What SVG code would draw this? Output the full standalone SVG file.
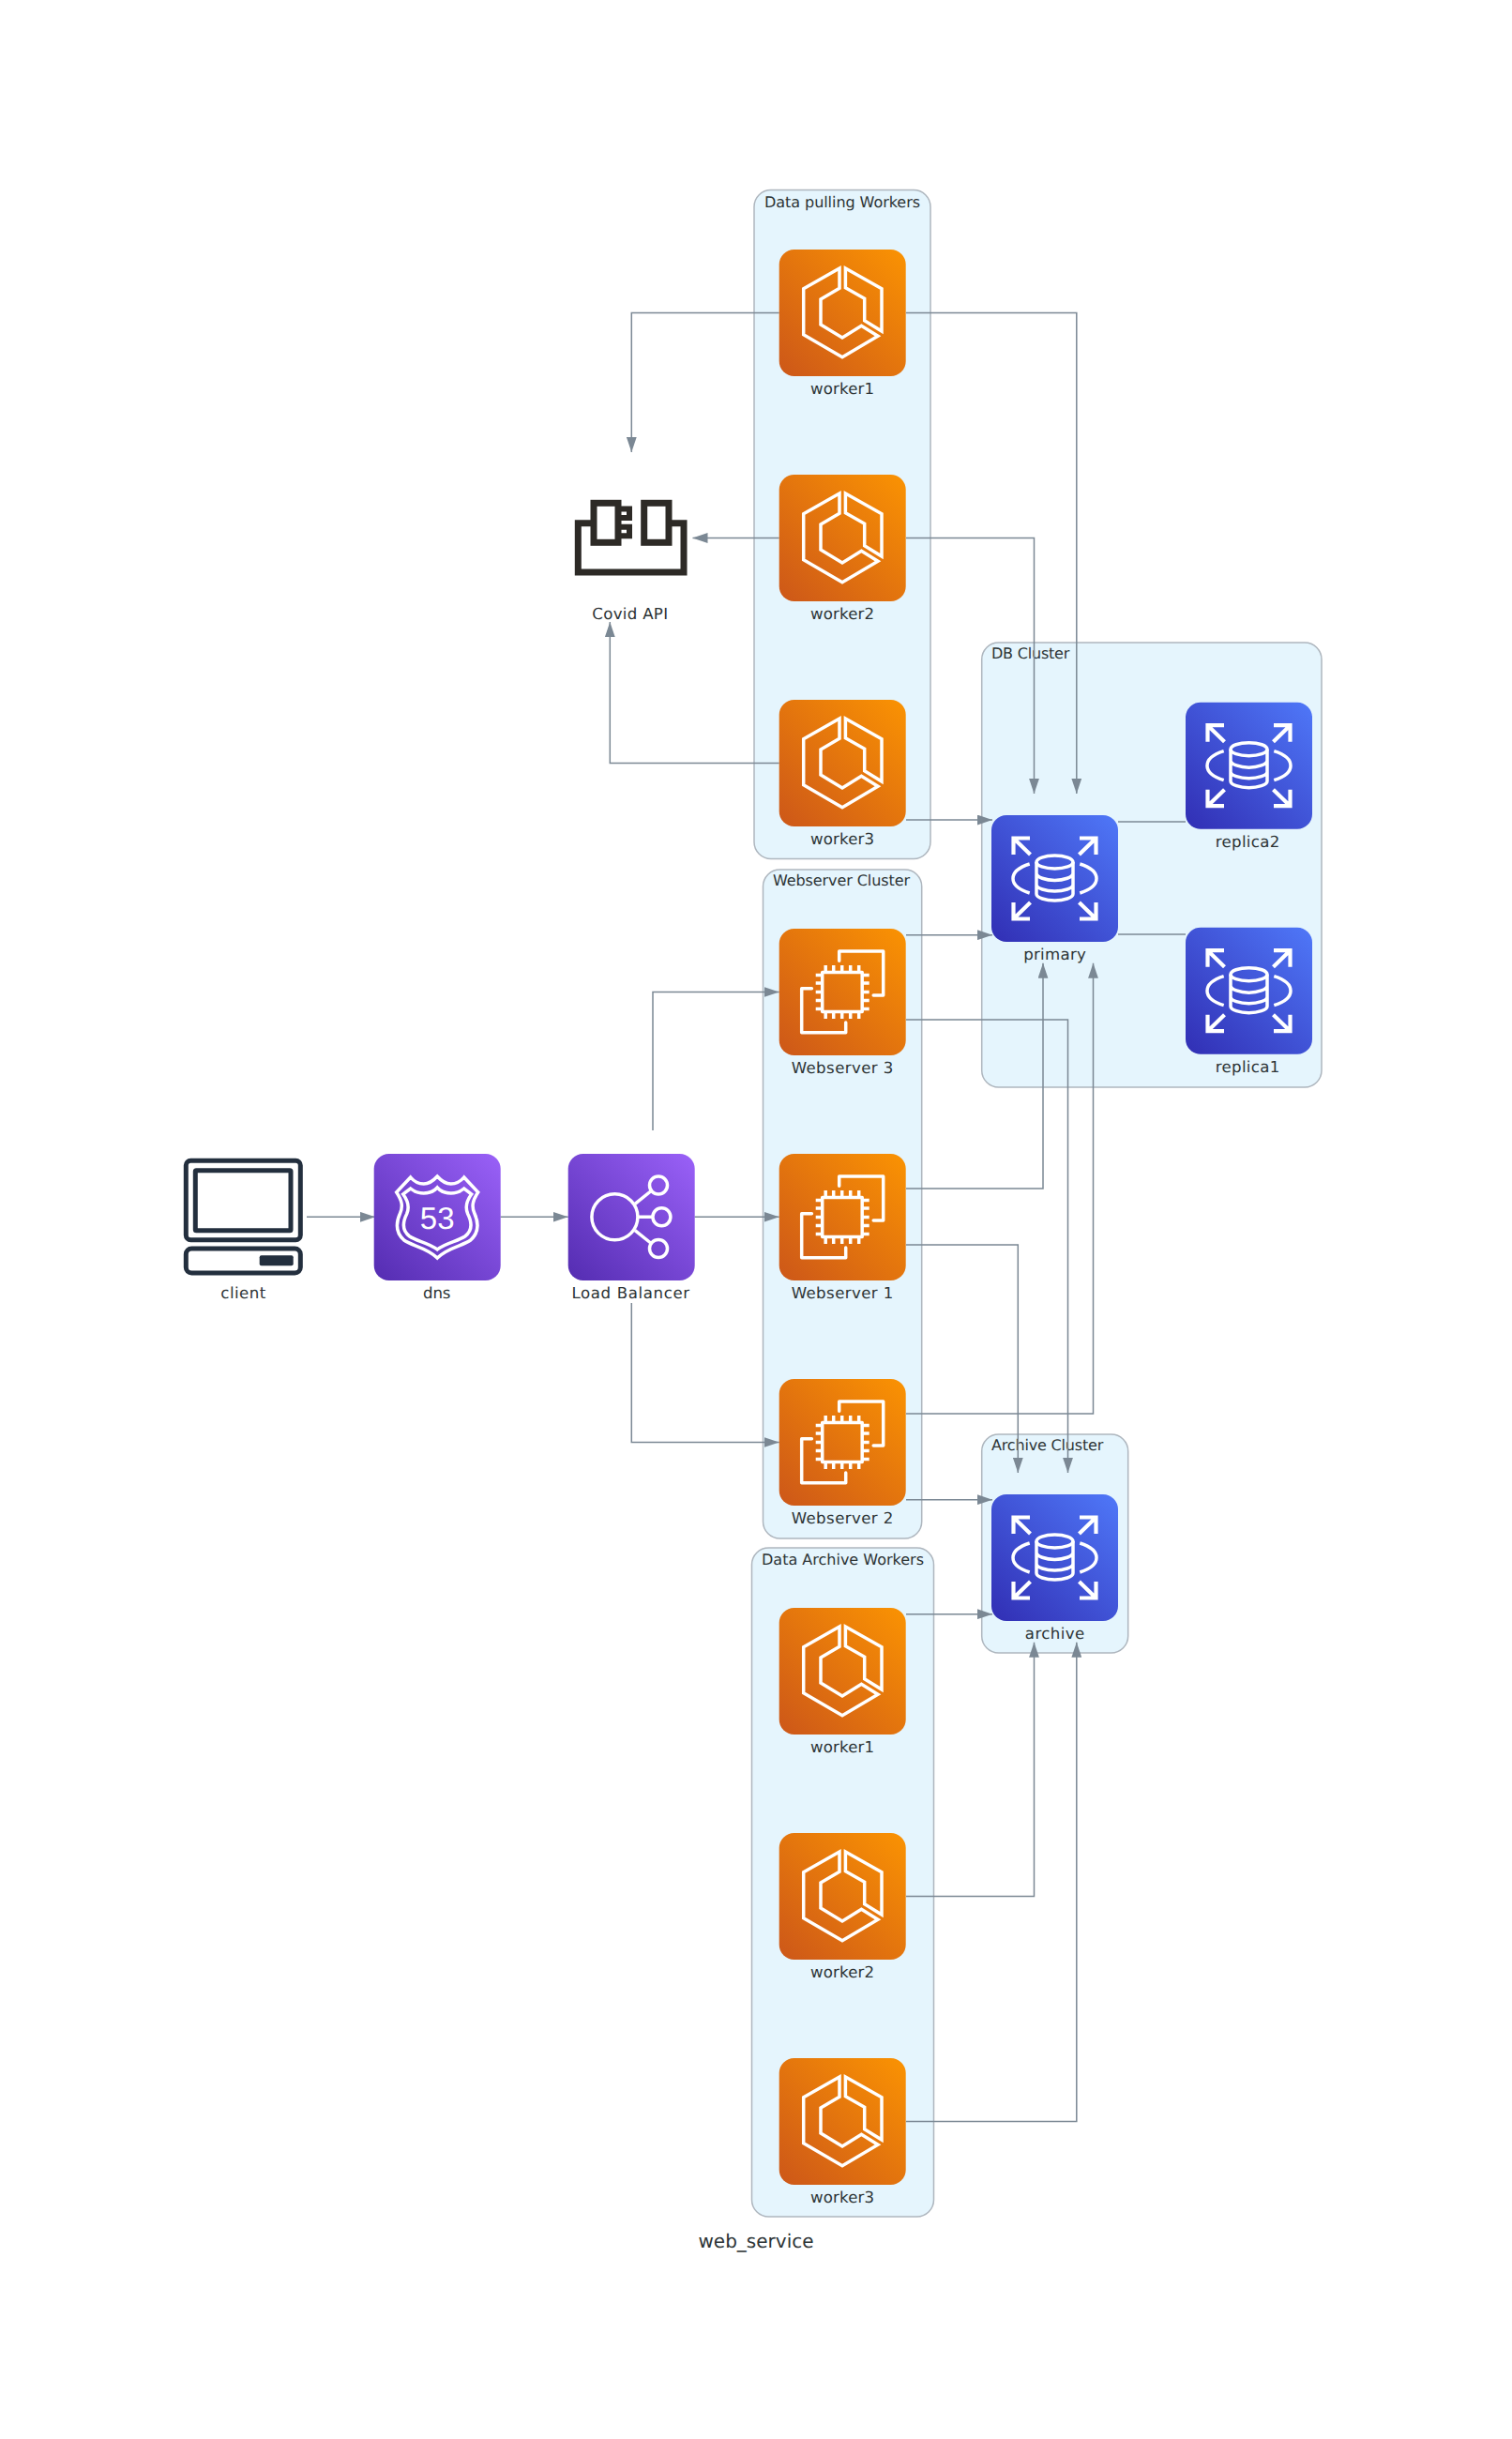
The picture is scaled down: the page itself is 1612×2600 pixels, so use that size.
<svg xmlns="http://www.w3.org/2000/svg" width="1612" height="2600" viewBox="0 0 1612 2600">
<style>
text{text-rendering:geometricPrecision}
.cl{fill:#E5F5FD;stroke:#AEB6BE;stroke-width:1.5}
.ct{font-family:"DejaVu Sans",sans-serif;font-size:16px;fill:#2D3436}
.nt{font-family:"DejaVu Sans",sans-serif;font-size:16.6px;fill:#2D3436;text-anchor:middle}
.e{fill:none;stroke:#7B8894;stroke-width:1.5}
.a{marker-end:url(#ah)}
.w{fill:none;stroke:#fff;stroke-width:3.5;stroke-linejoin:miter}
.wr{fill:none;stroke:#fff;stroke-width:3.5;stroke-linejoin:round;stroke-linecap:round}
.ws{fill:none;stroke:#fff;stroke-width:4.2;stroke-linejoin:miter}
</style>
<defs>
<marker id="ah" markerUnits="userSpaceOnUse" markerWidth="16" markerHeight="11" refX="16" refY="5.4" orient="auto"><path d="M0,0L16,5.4L0,10.8Z" fill="#7B8894"/></marker>
<linearGradient id="go" x1="-0.1" y1="1.1" x2="1.1" y2="-0.1"><stop offset="0" stop-color="#C8511B"/><stop offset="1" stop-color="#FF9900"/></linearGradient>
<linearGradient id="gb" x1="-0.1" y1="1.1" x2="1.1" y2="-0.1"><stop offset="0" stop-color="#2E27AD"/><stop offset="1" stop-color="#527FFF"/></linearGradient>
<linearGradient id="gp" x1="-0.1" y1="1.1" x2="1.1" y2="-0.1"><stop offset="0" stop-color="#4D27AA"/><stop offset="1" stop-color="#A166FF"/></linearGradient>
<symbol id="ecs" width="135" height="135" viewBox="0 0 135 135" overflow="visible">
<rect width="135" height="135" rx="16" fill="url(#go)"/>
<path class="w" d="M64.3,20L26,41.7V90.7L67.3,114.7L105.3,92.3L87.7,81.3L67.3,94L44.3,80V53L64.3,41.3Z"/>
<path class="w" d="M70.7,20L109.3,41.7V87L91,75.7V52.3L70.7,40.7Z"/>
</symbol>
<symbol id="ec2" width="135" height="135" viewBox="0 0 135 135" overflow="visible">
<rect width="135" height="135" rx="16" fill="url(#go)"/>
<rect class="wr" x="46" y="46.5" width="42.5" height="42"/>
<path class="w" d="M49.5,39V46M58,39V46M67,39V46M76,39V46M85,39V46M49.5,89V96M58,89V96M67,89V96M76,89V96M85,89V96M39,49.5H46M39,58H46M39,67.5H46M39,76.5H46M39,85.5H46M89,49.5H96M89,58H96M89,67.5H96M89,76.5H96M89,85.5H96"/>
<path class="wr" d="M64,34.3V24H111V71H100.5"/>
<path class="wr" d="M34.7,63.7H24V110.7H71V100"/>
</symbol>
<symbol id="rds" width="135" height="135" viewBox="0 0 135 135" overflow="visible">
<rect width="135" height="135" rx="16" fill="url(#gb)"/>
<path class="ws" d="M41,24.500H23.500V42M23.500,24.500L41.500,42"/>
<path class="ws" d="M94,24.500H111.500V42M111.500,24.500L93.500,42"/>
<path class="ws" d="M41,110.500H23.500V93M23.500,110.500L41.500,93"/>
<path class="ws" d="M94,110.500H111.500V93M111.500,110.500L93.500,93"/>
<ellipse class="w" cx="67.500" cy="50" rx="19.500" ry="7"/>
<path class="w" d="M48,50V84C48,88 58,91 67.500,91S87,88 87,84V50M48,62C48,66 58,69.500 67.500,69.500S87,66 87,62M48,74C48,78 58,81 67.500,81S87,78 87,74"/>
<path class="w" d="M40.700,52C28,56 23,62 23,67.500C23,73 28,79 40.700,83M94.300,52C107,56 112,62 112,67.500C112,73 107,79 94.300,83"/>
</symbol>
<symbol id="r53" width="135" height="135" viewBox="0 0 135 135" overflow="visible">
<rect width="135" height="135" rx="16" fill="url(#gp)"/>
<path class="w" d="M39,25C44,31 48,32 53,32C58,32 63,29 67.500,24C72,29 77,32 82,32C87,32 91,31 96,25L111,41C105,50 104,56 107,63C112,74 112,84 103,92C95,98 78,100 67.500,111C57,100 40,98 32,92C23,84 23,74 28,63C31,56 30,50 24,41Z"/>
<path class="w" d="M39,37C44,41 49,42 53,42C59,42 64,40 67.500,36C71,40 76,42 82,42C86,42 91,41 96,37L104,43C98,51 97,57 100,64C105,74 105,82 97,88C90,93 76,95 67.500,102C59,95 45,93 38,88C30,82 30,74 35,64C38,57 37,51 31,43Z"/>
<text x="67.500" y="80" font-family="'Liberation Sans',sans-serif" font-size="33" fill="#fff" text-anchor="middle">53</text>
</symbol>
<symbol id="elb" width="135" height="135" viewBox="0 0 135 135" overflow="visible">
<rect width="135" height="135" rx="16" fill="url(#gp)"/>
<circle class="w" cx="49.700" cy="67.300" r="24.500"/>
<circle class="w" cx="96.300" cy="33.500" r="9.500"/>
<circle class="w" cx="99.700" cy="67.300" r="9.500"/>
<circle class="w" cx="96.300" cy="101" r="9.500"/>
<path class="w" d="M71.300,53.300L88,40M74.500,67.300H90M71.300,81.700L88,95"/>
</symbol>
</defs>
<rect width="1612" height="2600" fill="#fff"/>
<g id="clusters">
<g id="cluster-data-pulling"><rect class="cl" x="804" y="202.500" width="188" height="713" rx="18"/><text class="ct" x="815" y="221" textLength="166">Data pulling Workers</text></g>
<g id="cluster-db"><rect class="cl" x="1046.700" y="685" width="362.300" height="474" rx="18"/><text class="ct" x="1057" y="702" textLength="83.300">DB Cluster</text></g>
<g id="cluster-web"><rect class="cl" x="813.500" y="927" width="169.200" height="713" rx="18"/><text class="ct" x="824" y="944" textLength="146">Webserver Cluster</text></g>
<g id="cluster-archive"><rect class="cl" x="1046.700" y="1529" width="156" height="233" rx="18"/><text class="ct" x="1057" y="1546" textLength="119.300">Archive Cluster</text></g>
<g id="cluster-data-archive"><rect class="cl" x="801.500" y="1650" width="194" height="713" rx="18"/><text class="ct" x="812" y="1668" textLength="173">Data Archive Workers</text></g>
</g>
<g id="connectors">
<path class="e a" d="M327,1297.300H400"/>
<path class="e a" d="M533.500,1297.300H605.700"/>
<path class="e a" d="M740.500,1297.300H830.700"/>
<path class="e a" d="M696,1205V1057.500H830.700"/>
<path class="e a" d="M673.300,1389V1537.500H830.700"/>
<path class="e a" d="M830.700,333.500H673.300V482"/>
<path class="e a" d="M830.700,573.500H738.500"/>
<path class="e a" d="M830.700,813.500H650.300V663"/>
<path class="e a" d="M966,333.500H1147.800V846"/>
<path class="e a" d="M966,573.500H1102.500V846"/>
<path class="e a" d="M966,874H1058"/>
<path class="e a" d="M966,996.700H1058"/>
<path class="e a" d="M966,1087H1138.500V1570"/>
<path class="e a" d="M966,1267H1112V1026.700"/>
<path class="e a" d="M966,1327H1085.300V1570"/>
<path class="e a" d="M966,1507H1165.500V1026.700"/>
<path class="e a" d="M966,1598.700H1058"/>
<path class="e a" d="M966,1720.700H1058"/>
<path class="e a" d="M966,2021.500H1102.500V1750.700"/>
<path class="e a" d="M966,2261.500H1147.800V1750.700"/>
<path class="e" d="M1192,876H1264"/>
<path class="e" d="M1192,996H1264"/>
</g>
<g id="client"><g fill="none" stroke="#232F3E" stroke-width="5"><rect x="198.300" y="1237.300" width="122" height="84.400" rx="5"/><rect x="208.300" y="1247.700" width="101.700" height="64" rx="1"/><rect x="198.300" y="1331" width="122" height="26" rx="6"/></g><rect x="276.700" y="1338.300" width="36" height="11" rx="2" fill="#232F3E"/><text class="nt" x="259.300" y="1383.500" textLength="48">client</text></g>
<g id="dns"><use href="#r53" x="398.700" y="1230"/><text class="nt" x="465.700" y="1383.500" textLength="29.300">dns</text></g>
<g id="load-balancer"><use href="#elb" x="605.700" y="1230"/><text class="nt" x="672.300" y="1383.500" textLength="125.700">Load Balancer</text></g>
<g id="covid-api"><g fill="none" stroke="#2D2A26" stroke-width="7"><rect x="633" y="536.300" width="26" height="42"/><rect x="686.700" y="536.300" width="26.300" height="42"/><path d="M633,557.700H616.300V610H729V557.700H713"/></g><g fill="none" stroke="#2D2A26" stroke-width="6"><path d="M659,542.500H671V552H659M659,561.800H671V571.300H659"/></g><text class="nt" x="671.700" y="660" textLength="80.700">Covid API</text></g>
<g id="pull-worker1"><use href="#ecs" x="830.700" y="266"/><text class="nt" x="898" y="420" textLength="68">worker1</text></g>
<g id="pull-worker2"><use href="#ecs" x="830.700" y="506"/><text class="nt" x="898" y="660" textLength="68">worker2</text></g>
<g id="pull-worker3"><use href="#ecs" x="830.700" y="746"/><text class="nt" x="898" y="900" textLength="68">worker3</text></g>
<g id="webserver3"><use href="#ec2" x="830.700" y="990"/><text class="nt" x="898" y="1144" textLength="108.700">Webserver 3</text></g>
<g id="webserver1"><use href="#ec2" x="830.700" y="1230"/><text class="nt" x="898" y="1384" textLength="108.700">Webserver 1</text></g>
<g id="webserver2"><use href="#ec2" x="830.700" y="1470"/><text class="nt" x="898" y="1624" textLength="108.700">Webserver 2</text></g>
<g id="archive-worker1"><use href="#ecs" x="830.700" y="1714"/><text class="nt" x="898" y="1868" textLength="68">worker1</text></g>
<g id="archive-worker2"><use href="#ecs" x="830.700" y="1954"/><text class="nt" x="898" y="2108" textLength="68">worker2</text></g>
<g id="archive-worker3"><use href="#ecs" x="830.700" y="2194"/><text class="nt" x="898" y="2348" textLength="68">worker3</text></g>
<g id="primary"><use href="#rds" x="1057" y="869"/><text class="nt" x="1124.500" y="1023" textLength="66.700">primary</text></g>
<g id="replica2"><use href="#rds" x="1264" y="748.700"/><text class="nt" x="1330" y="902.700" textLength="68.700">replica2</text></g>
<g id="replica1"><use href="#rds" x="1264" y="988.700"/><text class="nt" x="1330" y="1142.700" textLength="68.700">replica1</text></g>
<g id="archive"><use href="#rds" x="1057" y="1593"/><text class="nt" x="1124.500" y="1747" textLength="63.300">archive</text></g>
<text x="806" y="2396" font-family="'DejaVu Sans',sans-serif" font-size="20" fill="#2D3436" text-anchor="middle">web_service</text>
</svg>
